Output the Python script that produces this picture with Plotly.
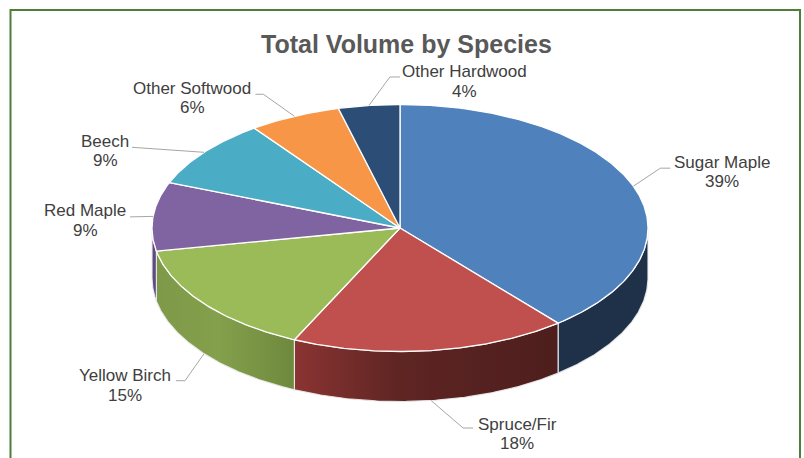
import numpy as np
import plotly.graph_objects as go

# ---- data ----
species = ["Sugar Maple", "Spruce/Fir", "Yellow Birch", "Red Maple", "Beech",
           "Other Softwood", "Other Hardwood"]
volume_pct = [39, 18, 15, 9, 9, 6, 4]
title_text = "Total Volume by Species"

# ---- style ----
top_colors = ["#4F81BD", "#C0504D", "#9BBB59", "#8064A2", "#4BACC6", "#F79646", "#2C4D75"]
side_scales = [
    [[0, "#1F3049"], [1, "#1F3049"]],
    [[0, "#8A3432"], [0.4, "#5E2523"], [1, "#4D1E1D"]],
    [[0, "#7E9948"], [0.45, "#84A04C"], [1, "#6E893D"]],
    [[0, "#5F4A82"], [1, "#5F4A82"]],
    [[0, "#2E7F94"], [1, "#2E7F94"]],
    [[0, "#B86A2C"], [1, "#B86A2C"]],
    [[0, "#1B3049"], [1, "#1B3049"]],
]
# label placement: offsets (elbow, end, text centre x, first baseline) from leader anchor
label_offsets = [
    ((27, -18), (37, -18), 89, -18),
    ((32, 27.5), (42, 27.5), 86, 29.5),
    ((-19, 27), (-28, 27), -79, 28),
    ((-12, 0.3), (-23, 0.5), -68, 0.5),
    ((-60, -4.5), (-72, -5), -99, -5),
    ((-31, -22), (-39, -22), -102, -22),
    ((21, -28.5), (31, -28.5), 96, -27.5),
]
CX, CY, RX, RY, DEPTH = 400, 228, 248, 123.5, 50
W, H = 804, 458
LABEL_FONT = dict(family="Liberation Sans, Arial, sans-serif", size=17, color="#404040")


def ell(theta_deg, dz=0.0):
    t = np.radians(theta_deg)
    return CX + RX * np.sin(t), CY - RY * np.cos(t) + dz


vals = np.array(volume_pct, dtype=float)
fr = vals / vals.sum()
ends = 360 * np.cumsum(fr)
starts = ends - 360 * fr

fig = go.Figure()

# side walls (front half only)
for i in range(len(species)):
    lo, hi = max(starts[i], 90), min(ends[i], 270)
    if hi <= lo:
        continue
    th = np.linspace(lo, hi, 120)
    xt, yt = ell(th)
    xb, yb = ell(th[::-1], DEPTH)
    xs = np.concatenate([xt, xb, xt[:1]])
    ys = np.concatenate([yt, yb, yt[:1]])
    fig.add_trace(go.Scatter(
        x=xs, y=ys, mode="lines", fill="toself",
        fillgradient=dict(type="horizontal", colorscale=side_scales[i]),
        line=dict(color="rgba(235,235,235,0.9)", width=1.2),
        hoverinfo="skip", showlegend=False))

# top faces
for i in range(len(species)):
    n = max(3, int((ends[i] - starts[i]) * 2))
    th = np.linspace(starts[i], ends[i], n)
    xa, ya = ell(th)
    xs = np.concatenate([[CX], xa, [CX]])
    ys = np.concatenate([[CY], ya, [CY]])
    fig.add_trace(go.Scatter(
        x=xs, y=ys, mode="lines", fill="toself", fillcolor=top_colors[i],
        line=dict(color="white", width=1.3),
        hoverinfo="skip", showlegend=False, name=species[i]))

# leader lines and labels
annotations = []
for i, name in enumerate(species):
    mid = (starts[i] + ends[i]) / 2
    front = 90 < (mid % 360) < 270
    ax, ay = ell(mid, DEPTH if front else 0)
    (ex, ey), (nx, ny), tcx, tb = label_offsets[i]
    fig.add_trace(go.Scatter(
        x=[ax, ax + ex, ax + nx], y=[ay, ay + ey, ay + ny], mode="lines",
        line=dict(color="#A6A6A6", width=1), hoverinfo="skip", showlegend=False))
    b1 = ay + tb
    annotations.append(dict(x=ax + tcx, y=b1 - 6, xref="x", yref="y", text=name,
                            showarrow=False, xanchor="center", yanchor="middle",
                            font=LABEL_FONT))
    annotations.append(dict(x=ax + tcx, y=b1 + 19.5 - 6, xref="x", yref="y",
                            text=f"{volume_pct[i]}%", showarrow=False,
                            xanchor="center", yanchor="middle", font=LABEL_FONT))

annotations.append(dict(x=406.5, y=43.5, xref="x", yref="y",
                        text=f"<b>{title_text}</b>", showarrow=False,
                        xanchor="center", yanchor="middle",
                        font=dict(family="Liberation Sans, Arial, sans-serif",
                                  size=25, color="#595959")))

fig.update_layout(
    width=W, height=H, margin=dict(l=0, r=0, t=0, b=0),
    paper_bgcolor="white", plot_bgcolor="white", showlegend=False,
    xaxis=dict(range=[0, W], visible=False, fixedrange=True),
    yaxis=dict(range=[H, 0], visible=False, fixedrange=True),
    annotations=annotations,
    shapes=[dict(type="rect", xref="x", yref="y", x0=10.5, x1=800, y0=10, y1=H + 20,
                 line=dict(color="#4F7D3A", width=2), fillcolor="rgba(0,0,0,0)",
                 layer="below")],
)

fig.write_html("out.html")
